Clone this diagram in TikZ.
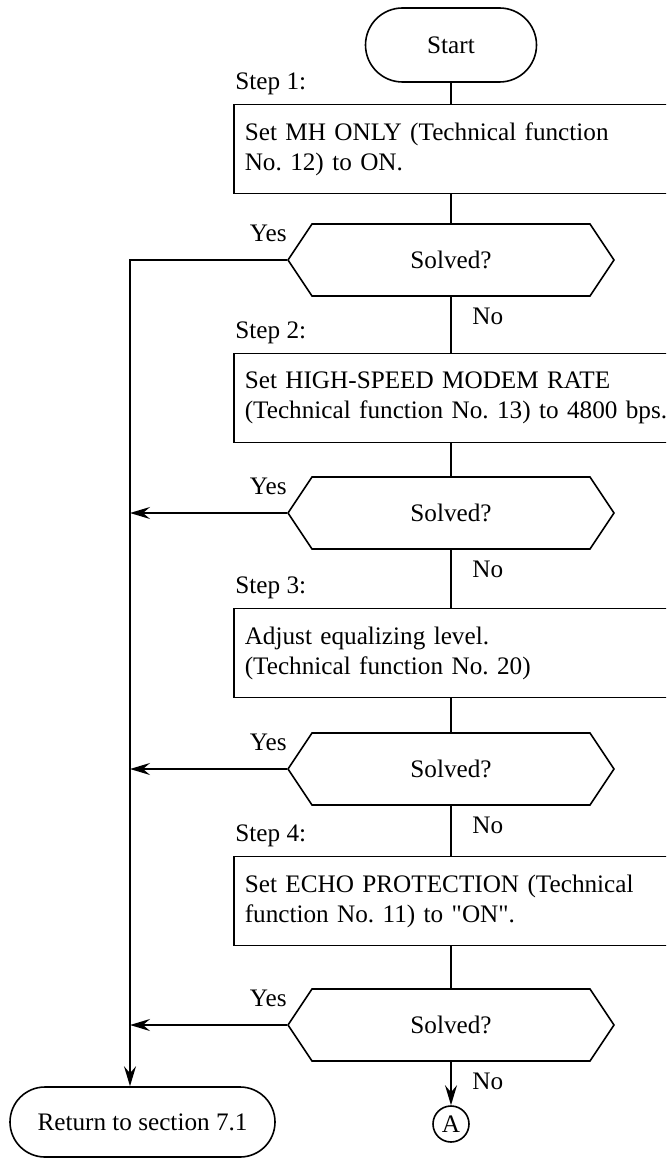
\documentclass[tikz,border=0pt]{standalone}
\usepackage{fontspec}
\setmainfont{Liberation Serif}[Ligatures=TeXOff]
\usetikzlibrary{arrows.meta, positioning, shapes.symbols}

\tikzset{
  flow/.style={line width=0.8pt},
  arr/.style={flow, -{Stealth[length=10pt, width=6pt, inset=3.5pt]}},
  term/.style={draw, line width=0.8pt, minimum height=37pt, inner sep=0pt},
  procbox/.style={draw, line width=0.8pt, text width=228pt, minimum height=44.5pt,
    align=left, inner xsep=5.5pt, anchor=west},
  decision/.style={draw, line width=0.8pt, signal, signal to=west and east,
    signal pointer angle=112.6, minimum width=163pt, minimum height=36pt, inner sep=0pt},
  lbl/.style={inner sep=0pt},
  conn/.style={draw, circle, line width=0.8pt, minimum size=18pt, inner sep=0pt}
}

\begin{document}
\frenchspacing
\begin{tikzpicture}[x=0.5pt, y=-0.5pt,
    every node/.append style={font=\fontsize{12.6}{15}\selectfont}]
  \clip (0,0) rectangle (666,1159);

  % --- terminals ---
  \node[term, minimum width=85.5pt, rounded corners=18.5pt] (start) at (451,45) {Start};

  % --- steps ---
  \node[procbox] (b1) at (233,149) {Set MH ONLY (Technical function\\No. 12) to ON.};
  \node[procbox] (b2) at (233,398) {Set HIGH-SPEED MODEM RATE\\(Technical function No. 13) to 4800 bps.};
  \node[procbox] (b3) at (233,653) {Adjust equalizing level.\\(Technical function No. 20)};
  \node[procbox] (b4) at (233,901) {Set ECHO PROTECTION (Technical\\function No. 11) to "ON".};
  \node[lbl, above right=4pt and 1pt of b1.north west] (s1) {Step 1:};
  \node[lbl, above right=4pt and 1pt of b2.north west] (s2) {Step 2:};
  \node[lbl, above right=4pt and 1pt of b3.north west] (s3) {Step 3:};
  \node[lbl, above right=4pt and 1pt of b4.north west] (s4) {Step 4:};

  % --- checks ---
  \node[decision] (d1) at (451,260) {Solved?};
  \node[decision] (d2) at (451,513) {Solved?};
  \node[decision] (d3) at (451,769) {Solved?};
  \node[decision] (d4) at (451,1025) {Solved?};
  \foreach \d in {d1,d2,d3,d4} {
    \node[lbl, above left=9pt and 0pt of \d.west] (\d yes) {Yes};
    \node[lbl, below right=5.5pt and 10.5pt of \d.south] (\d no) {No};
  }

  % --- ends ---
  \node[conn] (a) at (451,1124) {A};
  \node[term, minimum width=132.5pt, minimum height=35pt, rounded corners=17.5pt]
    (ret) at (142.5,1122) {Return to section 7.1};

  % main line
  \draw[flow] (start) -- (start |- b1.north);
  \draw[flow] (d1 |- b1.south) -- (d1.north);
  \draw[flow] (d1.south) -- (d1 |- b2.north);
  \draw[flow] (d2 |- b2.south) -- (d2.north);
  \draw[flow] (d2.south) -- (d2 |- b3.north);
  \draw[flow] (d3 |- b3.south) -- (d3.north);
  \draw[flow] (d3.south) -- (d3 |- b4.north);
  \draw[flow] (d4 |- b4.south) -- (d4.north);
  \draw[arr] (d4.south) -- (a);

  % Yes branch
  \coordinate (bend) at (130,260);
  \draw[arr] (d1.west) -- (bend) -- (bend |- ret.north);
  \foreach \d in {d2,d3,d4}
    \draw[arr] (\d.west) -- (bend |- \d.west);
\end{tikzpicture}
\end{document}
